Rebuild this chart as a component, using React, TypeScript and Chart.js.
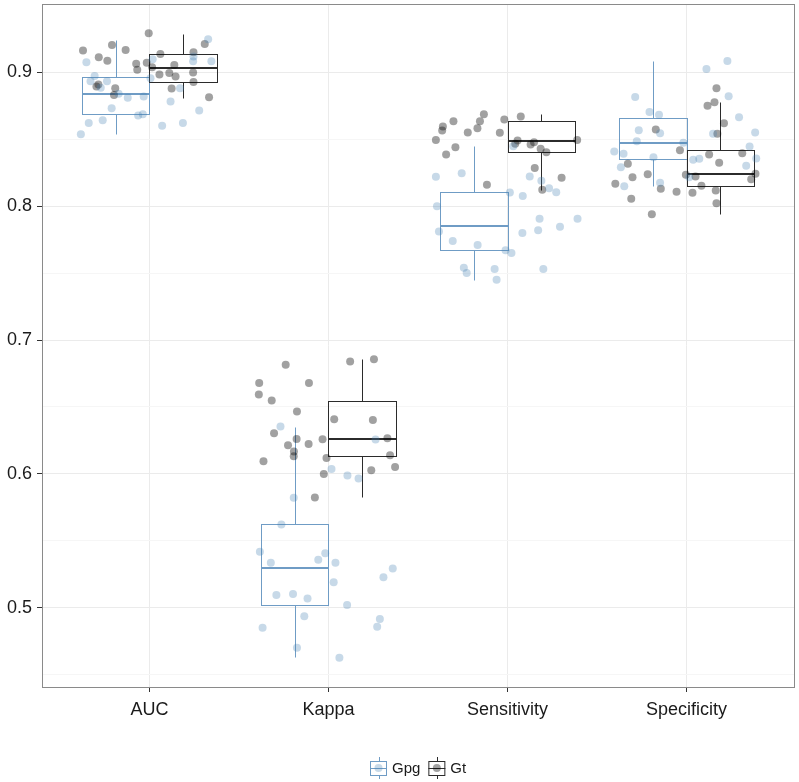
import React, { useEffect, useRef } from 'react';
import { Chart, registerables } from 'chart.js';
Chart.register(...registerables);

const categories = ['AUC', 'Kappa', 'Sensitivity', 'Specificity'];
const groups = ['Gpg', 'Gt'];
const yTicks = [0.45, 0.5, 0.55, 0.6, 0.65, 0.7, 0.75, 0.8, 0.85, 0.9];

// Box statistics per category (AUC, Kappa, Sensitivity, Specificity)
const gpgLow = [0.854, 0.463, 0.745, 0.8147];
const gpgQ1 = [0.8687, 0.5018, 0.767, 0.8354];
const gpgMed = [0.8839, 0.5294, 0.785, 0.847];
const gpgQ3 = [0.8968, 0.5622, 0.8102, 0.866];
const gpgHigh = [0.9242, 0.6351, 0.845, 0.9082];

const gtLow = [0.8807, 0.5824, 0.8122, 0.7943];
const gtQ1 = [0.893, 0.613, 0.8406, 0.8149];
const gtMed = [0.903, 0.6259, 0.849, 0.8237];
const gtQ3 = [0.9134, 0.6548, 0.8634, 0.8416];
const gtHigh = [0.9287, 0.6856, 0.869, 0.8781];

// Jittered observations (value, horizontal jitter relative to category centre)
const aucGpgVals = [0.9075, 0.8972, 0.8933, 0.8884, 0.8933, 0.8839, 0.8809, 0.8819, 0.8731, 0.8622, 0.8642, 0.8537, 0.8677, 0.8687, 0.8955, 0.9097, 0.888, 0.8781, 0.86, 0.8622, 0.8714, 0.9082, 0.9082, 0.9246, 0.9118];
const aucGpgJit = [-0.352, -0.306, -0.329, -0.272, -0.237, -0.172, -0.121, -0.032, -0.211, -0.339, -0.261, -0.383, -0.063, -0.037, 0.006, 0.018, 0.171, 0.118, 0.071, 0.187, 0.278, 0.244, 0.346, 0.328, 0.246];
const aucGtVals = [0.9162, 0.9204, 0.9167, 0.9112, 0.9087, 0.9291, 0.9063, 0.9018, 0.9072, 0.8908, 0.8893, 0.888, 0.8831, 0.9137, 0.9055, 0.9037, 0.8983, 0.8995, 0.8968, 0.9149, 0.8998, 0.8928, 0.8878, 0.9212, 0.8813];
const aucGtJit = [-0.371, -0.209, -0.133, -0.283, -0.235, -0.004, -0.074, -0.068, -0.015, -0.285, -0.296, -0.191, -0.198, 0.061, 0.139, 0.015, 0.056, 0.111, 0.146, 0.246, 0.244, 0.246, 0.124, 0.309, 0.333];

const kappaGpgVals = [0.6354, 0.5821, 0.5622, 0.5418, 0.5336, 0.5358, 0.5408, 0.5336, 0.519, 0.5095, 0.5102, 0.507, 0.502, 0.4936, 0.4851, 0.4916, 0.4858, 0.5227, 0.5294, 0.6037, 0.5988, 0.5966, 0.6257, 0.4701, 0.4627];
const kappaGpgJit = [-0.268, -0.194, -0.263, -0.383, -0.322, -0.057, -0.018, 0.039, 0.029, -0.291, -0.198, -0.117, 0.104, -0.135, -0.368, 0.287, 0.272, 0.307, 0.359, 0.017, 0.106, 0.168, 0.263, -0.176, 0.061];
const kappaGtVals = [0.6816, 0.6679, 0.6593, 0.6548, 0.6679, 0.6466, 0.6304, 0.6261, 0.6214, 0.6224, 0.6167, 0.6132, 0.6095, 0.6259, 0.6119, 0.6, 0.5824, 0.6839, 0.6856, 0.6408, 0.6403, 0.6266, 0.614, 0.6052, 0.6028];
const kappaGtJit = [-0.239, -0.387, -0.389, -0.317, -0.109, -0.176, -0.304, -0.178, -0.226, -0.111, -0.193, -0.194, -0.363, -0.033, -0.011, -0.026, -0.076, 0.121, 0.254, 0.032, 0.248, 0.329, 0.344, 0.372, 0.239];

const sensGpgVals = [0.822, 0.8246, 0.8448, 0.8102, 0.8075, 0.8222, 0.819, 0.8134, 0.8104, 0.7906, 0.7906, 0.7846, 0.7819, 0.8, 0.781, 0.774, 0.754, 0.75, 0.753, 0.745, 0.765, 0.753, 0.78, 0.767, 0.771];
const sensGpgJit = [-0.4, -0.256, 0.032, 0.013, 0.085, 0.124, 0.189, 0.232, 0.272, 0.179, 0.391, 0.293, 0.171, -0.394, -0.383, -0.306, -0.244, -0.228, -0.072, -0.061, 0.022, 0.2, 0.083, -0.011, -0.167];
const sensGtVals = [0.8594, 0.8565, 0.8634, 0.8495, 0.8386, 0.844, 0.8687, 0.8634, 0.8582, 0.8548, 0.8647, 0.8669, 0.816, 0.8466, 0.846, 0.8478, 0.8428, 0.8403, 0.8495, 0.8284, 0.8212, 0.8122, 0.855, 0.849];
const sensGtJit = [-0.361, -0.365, -0.302, -0.4, -0.343, -0.291, -0.132, -0.154, -0.168, -0.043, -0.018, 0.074, -0.115, 0.043, 0.129, 0.148, 0.185, 0.217, 0.389, 0.152, 0.302, 0.194, -0.222, 0.056];

const specGpgVals = [0.8816, 0.8704, 0.8682, 0.8567, 0.8545, 0.8485, 0.8408, 0.8391, 0.8366, 0.8291, 0.8149, 0.8175, 0.8473, 0.9025, 0.9085, 0.8821, 0.8664, 0.854, 0.855, 0.8445, 0.8356, 0.8301, 0.8354, 0.8347, 0.8216];
const specGpgJit = [-0.287, -0.207, -0.154, -0.267, -0.148, -0.278, -0.404, -0.352, -0.185, -0.367, -0.348, -0.148, -0.018, 0.111, 0.228, 0.235, 0.293, 0.148, 0.383, 0.352, 0.389, 0.333, 0.071, 0.037, 0.015];
const specGtVals = [0.8572, 0.8316, 0.8216, 0.8167, 0.8239, 0.813, 0.8107, 0.8055, 0.794, 0.8418, 0.8234, 0.8222, 0.8152, 0.81, 0.8386, 0.8324, 0.8117, 0.888, 0.8776, 0.8749, 0.8619, 0.854, 0.8396, 0.8242, 0.8201, 0.8022];
const specGtJit = [-0.172, -0.328, -0.302, -0.398, -0.217, -0.144, -0.056, -0.309, -0.194, -0.037, -0.004, 0.05, 0.083, 0.033, 0.126, 0.182, 0.163, 0.167, 0.156, 0.117, 0.209, 0.172, 0.311, 0.385, 0.361, 0.167];

const gpgSets = [
  [aucGpgVals, aucGpgJit],
  [kappaGpgVals, kappaGpgJit],
  [sensGpgVals, sensGpgJit],
  [specGpgVals, specGpgJit],
];
const gtSets = [
  [aucGtVals, aucGtJit],
  [kappaGtVals, kappaGtJit],
  [sensGtVals, sensGtJit],
  [specGtVals, specGtJit],
];

const GPG_LINE = '#6f9cc5';
const GPG_POINT = 'rgba(70,130,180,0.3)';
const GT_LINE = '#2b2b2b';
const GT_POINT = 'rgba(0,0,0,0.37)';
const BOX_W = 0.375;
const DODGE = 0.1875;
const FONT = '"Liberation Sans", Arial, Helvetica, sans-serif';

function toPoints(sets: any[]) {
  const out: { x: number; y: number }[] = [];
  sets.forEach(([vals, jit], i) => {
    vals.forEach((v: number, k: number) => out.push({ x: i + 1 + jit[k], y: v }));
  });
  return out;
}

const isMajor = (v: number) => Math.abs(v * 10 - Math.round(v * 10)) < 1e-6;

const boxPlugin = {
  id: 'boxes',
  beforeDatasetsDraw(chart: any) {
    const { ctx, scales } = chart;
    const x = scales.x;
    const y = scales.y;
    const px = (v: number) => Math.round(x.getPixelForValue(v)) + 0.5;
    const py = (v: number) => Math.round(y.getPixelForValue(v)) + 0.5;
    const draw = (low: number[], q1: number[], med: number[], q3: number[], high: number[], off: number, color: string, medW: number) => {
      categories.forEach((_, i) => {
        const c = i + 1 + off;
        const xl = px(c - BOX_W / 2);
        const xr = px(c + BOX_W / 2);
        const xc = px(c);
        ctx.save();
        ctx.strokeStyle = color;
        ctx.lineWidth = 1;
        ctx.beginPath();
        ctx.moveTo(xc, py(high[i]));
        ctx.lineTo(xc, py(q3[i]));
        ctx.moveTo(xc, py(q1[i]));
        ctx.lineTo(xc, py(low[i]));
        ctx.stroke();
        ctx.strokeRect(xl, py(q3[i]), xr - xl, py(q1[i]) - py(q3[i]));
        ctx.lineWidth = medW;
        ctx.beginPath();
        const ym = Math.round(y.getPixelForValue(med[i]));
        ctx.moveTo(xl, ym);
        ctx.lineTo(xr, ym);
        ctx.stroke();
        ctx.restore();
      });
    };
    draw(gpgLow, gpgQ1, gpgMed, gpgQ3, gpgHigh, -DODGE, GPG_LINE, 2);
    draw(gtLow, gtQ1, gtMed, gtQ3, gtHigh, DODGE, GT_LINE, 2);
  },
  afterDatasetsDraw(chart: any) {
    const { ctx, chartArea } = chart;
    ctx.save();
    ctx.strokeStyle = '#8a8a8a';
    ctx.lineWidth = 1;
    ctx.strokeRect(
      Math.round(chartArea.left) + 0.5,
      Math.round(chartArea.top) + 0.5,
      Math.round(chartArea.right - chartArea.left),
      Math.round(chartArea.bottom - chartArea.top)
    );
    ctx.restore();
  },
  afterDraw(chart: any) {
    const { ctx, chartArea } = chart;
    ctx.save();
    ctx.font = `15px ${FONT}`;
    const key = 17;
    const gapKT = 5;
    const gapItems = 8;
    const widths = groups.map((g) => ctx.measureText(g).width);
    const total = key * 2 + gapKT * 2 + widths[0] + widths[1] + gapItems;
    let xs = Math.round((chartArea.left + chartArea.right) / 2 - total / 2);
    const yc = 768;
    const styles = [
      [GPG_LINE, GPG_POINT],
      [GT_LINE, GT_POINT],
    ];
    groups.forEach((g, i) => {
      const [line, pt] = styles[i];
      const cx = xs + key / 2;
      ctx.strokeStyle = line;
      ctx.lineWidth = 1;
      ctx.beginPath();
      ctx.moveTo(Math.round(cx) + 0.5, yc - 11);
      ctx.lineTo(Math.round(cx) + 0.5, yc - 7);
      ctx.moveTo(Math.round(cx) + 0.5, yc + 7);
      ctx.lineTo(Math.round(cx) + 0.5, yc + 11);
      ctx.stroke();
      ctx.strokeRect(xs + 0.5, yc - 7 + 0.5, key - 1, 14);
      ctx.beginPath();
      ctx.moveTo(xs, yc + 0.5);
      ctx.lineTo(xs + key, yc + 0.5);
      ctx.stroke();
      ctx.fillStyle = pt;
      ctx.beginPath();
      ctx.arc(cx, yc, 4, 0, Math.PI * 2);
      ctx.fill();
      ctx.fillStyle = '#1a1a1a';
      ctx.textBaseline = 'middle';
      ctx.textAlign = 'left';
      ctx.fillText(g, xs + key + gapKT, yc + 1);
      xs += key + gapKT + widths[i] + gapItems;
    });
    ctx.restore();
  },
};

export default function App() {
  const ref = useRef<HTMLCanvasElement | null>(null);
  useEffect(() => {
    if (!ref.current) return;
    Chart.defaults.font.family = FONT;
    const chart = new Chart(ref.current, {
      type: 'scatter',
      data: {
        datasets: [
          {
            label: groups[0],
            data: toPoints(gpgSets),
            backgroundColor: GPG_POINT,
            borderWidth: 0,
            pointRadius: 4,
          },
          {
            label: groups[1],
            data: toPoints(gtSets),
            backgroundColor: GT_POINT,
            borderWidth: 0,
            pointRadius: 4,
          },
        ],
      },
      options: {
        animation: false,
        responsive: true,
        maintainAspectRatio: false,
        events: [],
        layout: { padding: { top: 3, right: 5, left: 0, bottom: 0 } },
        plugins: { legend: { display: false }, tooltip: { enabled: false } },
        scales: {
          x: {
            type: 'linear',
            min: 0.4,
            max: 4.6,
            afterBuildTicks: (s: any) => {
              s.ticks = categories.map((_, i) => ({ value: i + 1 }));
            },
            afterFit: (s: any) => {
              s.height = 95;
              s.paddingLeft = 0;
              s.paddingRight = 0;
            },
            border: { display: false },
            grid: {
              color: '#ebebeb',
              lineWidth: 1,
              tickColor: '#333333',
              tickLength: 5,
            },
            ticks: {
              autoSkip: false,
              maxRotation: 0,
              padding: 7,
              color: '#1a1a1a',
              font: { size: 18, family: FONT },
              callback: (v: any) => categories[Math.round(Number(v)) - 1] ?? '',
            },
          },
          y: {
            type: 'linear',
            min: 0.4408,
            max: 0.951,
            afterBuildTicks: (s: any) => {
              s.ticks = yTicks.map((v) => ({ value: v }));
            },
            afterFit: (s: any) => {
              s.width = 42;
              s.paddingTop = 0;
              s.paddingBottom = 0;
            },
            border: { display: false },
            grid: {
              color: (c: any) => (c.tick && isMajor(c.tick.value) ? '#ebebeb' : '#f6f6f6'),
              lineWidth: 1,
              tickColor: (c: any) => (c.tick && isMajor(c.tick.value) ? '#333333' : 'rgba(0,0,0,0)'),
              tickLength: 5,
            },
            ticks: {
              autoSkip: false,
              padding: 5,
              color: '#1a1a1a',
              font: { size: 18, family: FONT },
              callback: (v: any) => (isMajor(Number(v)) ? Number(v).toFixed(1) : ''),
            },
          },
        },
      },
      plugins: [boxPlugin],
    } as any);
    return () => chart.destroy();
  }, []);
  return (
    <div style={{ position: 'fixed', left: 0, top: 0, width: 799, height: 782, background: '#ffffff' }}>
      <canvas ref={ref} />
    </div>
  );
}
